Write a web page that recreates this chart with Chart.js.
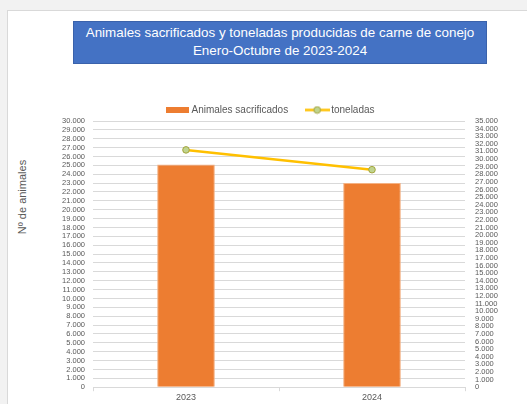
<!DOCTYPE html>
<html>
<head>
<meta charset="utf-8">
<script src="https://cdn.jsdelivr.net/npm/chart.js@4"></script>
<style>
  html, body { margin: 0; padding: 0; width: 527px; height: 404px; overflow: hidden; background: #f2f2f2; }
  #panel { position: absolute; left: 7px; top: 10px; width: 540px; height: 420px; background: #fff; border: 1px solid #d9d9d9; }
  #titulo { position: absolute; left: 73px; top: 21px; width: 412px; height: 41px; background: #4472c4; border: 1px solid #3a62ab; }
  #titulo div { position: absolute; left: -40px; right: -40px; top: 2px; text-align: center; white-space: nowrap;
            color: #fff; font-family: "Liberation Sans", Arial, sans-serif; font-size: 13.4px; line-height: 18.4px; }
  #ejeY { position: absolute; left: 22px; top: 197px; transform: translate(-50%, -50%) rotate(-90deg); white-space: nowrap;
          font-family: "Liberation Sans", Arial, sans-serif; font-size: 11px; color: #595959; }
  #lienzo { position: absolute; left: 0; top: 0; }
</style>
</head>
<body>
<div id="panel"></div>
<div id="titulo"><div>Animales sacrificados y toneladas producidas de carne de conejo<br>Enero-Octubre de 2023-2024</div></div>
<div id="ejeY">Nº de animales</div>
<canvas id="lienzo" width="527" height="404"></canvas>
<script>
const categorias = ['2023', '2024'];
const animalesSacrificados = [25100, 23000];
const toneladas = [31200, 28600];

const naranja = '#ed7d31';
const amarillo = '#ffc000';

function formatoMiles(v) {
    return String(v).replace(/\B(?=(\d{3})+(?!\d))/g, '.');
}

// iconos de leyenda estilo Excel
function iconoBarra() {
    const c = document.createElement('canvas');
    c.width = 23; c.height = 6;
    const ctx = c.getContext('2d');
    ctx.fillStyle = naranja;
    ctx.fillRect(0, 0, 23, 6);
    return c;
}
function iconoLinea() {
    const c = document.createElement('canvas');
    c.width = 25; c.height = 9;
    const ctx = c.getContext('2d');
    ctx.strokeStyle = amarillo;
    ctx.lineWidth = 2.5;
    ctx.beginPath(); ctx.moveTo(0, 4.5); ctx.lineTo(25, 4.5); ctx.stroke();
    ctx.beginPath(); ctx.arc(12.5, 4.5, 3.3, 0, Math.PI * 2);
    ctx.fillStyle = '#c0d48f'; ctx.fill();
    ctx.lineWidth = 1; ctx.strokeStyle = '#a3a43c'; ctx.stroke();
    return c;
}
const iconos = [iconoBarra(), iconoLinea()];

// la leyenda deja menos hueco debajo
const ajusteLeyenda = {
    id: 'ajusteLeyenda',
    beforeLayout(chart) {
        const lg = chart.legend;
        if (lg && !lg._ajustado) {
            const fitOriginal = lg.fit;
            lg.fit = function () { fitOriginal.call(this); this.height -= 4; };
            lg._ajustado = true;
        }
    }
};

const fuenteTicks = { family: 'Liberation Sans', size: 7.5 };

new Chart(document.getElementById('lienzo'), {
    data: {
        labels: categorias,
        datasets: [
            {
                type: 'bar',
                label: 'Animales sacrificados',
                data: animalesSacrificados,
                backgroundColor: naranja,
                borderColor: '#f4b183',
                borderWidth: 1,
                categoryPercentage: 1,
                barPercentage: 0.31,
                yAxisID: 'y',
                order: 1
            },
            {
                type: 'line',
                label: 'toneladas',
                data: toneladas,
                borderColor: amarillo,
                borderWidth: 2.5,
                pointRadius: 3.3,
                pointBackgroundColor: '#c0d48f',
                pointBorderColor: '#a3a43c',
                pointBorderWidth: 1,
                yAxisID: 'y1',
                order: 0
            }
        ]
    },
    options: {
        responsive: false,
        animation: false,
        layout: { padding: { left: 16, right: 0, top: 85, bottom: 0 } },
        plugins: {
            tooltip: { enabled: false },
            legend: {
                position: 'top',
                labels: {
                    usePointStyle: true,
                    pointStyleWidth: 18,
                    padding: 20,
                    color: '#595959',
                    font: { family: 'Liberation Sans', size: 10 },
                    generateLabels: (chart) => chart.data.datasets.map((ds, i) => ({
                        text: ds.label,
                        datasetIndex: i,
                        pointStyle: iconos[i],
                        fillStyle: 'transparent',
                        strokeStyle: 'transparent',
                        lineWidth: 0,
                        fontColor: '#595959'
                    }))
                }
            }
        },
        scales: {
            x: {
                offset: true,
                grid: { offset: true, drawOnChartArea: false, tickLength: 4, color: '#d9d9d9' },
                border: { color: '#d9d9d9' },
                ticks: { color: '#595959', font: { family: 'Liberation Sans', size: 9 }, padding: 1 }
            },
            y: {
                position: 'left',
                min: 0, max: 30000,
                afterFit: (s) => { s.width = 77; },
                grid: { color: '#d9d9d9', drawTicks: false },
                border: { display: false },
                ticks: { stepSize: 1000, autoSkip: false, padding: 8, color: '#595959', font: fuenteTicks, callback: formatoMiles }
            },
            y1: {
                position: 'right',
                min: 0, max: 35000,
                afterFit: (s) => { s.width = 62; },
                grid: { drawOnChartArea: false, drawTicks: false },
                border: { display: false },
                ticks: { stepSize: 1000, autoSkip: false, padding: 10, color: '#595959', font: fuenteTicks, callback: formatoMiles }
            }
        }
    },
    plugins: [ajusteLeyenda]
});
</script>
</body>
</html>
